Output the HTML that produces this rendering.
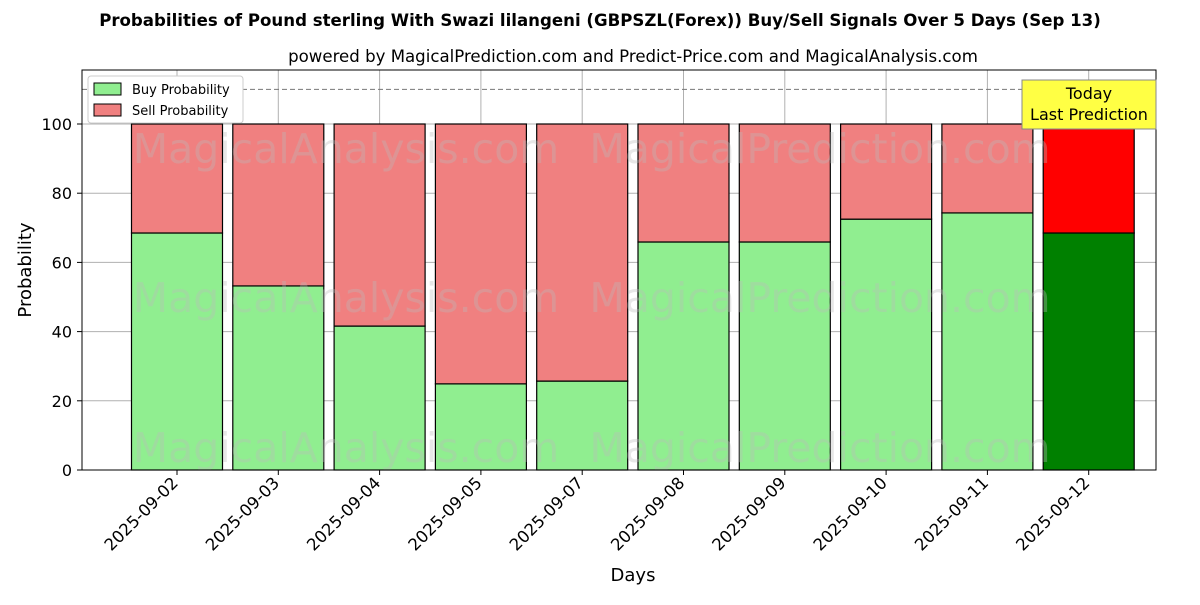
<!DOCTYPE html>
<html><head><meta charset="utf-8"><style>
body{margin:0;background:#fff;font-family:"Liberation Sans","DejaVu Sans",sans-serif}
svg text{font-family:"DejaVu Sans","Liberation Sans",sans-serif}
</style></head><body>
<svg id="chart" width="1200" height="600" xmlns="http://www.w3.org/2000/svg">
<text x="600" y="26" text-anchor="middle" font-size="16.6" font-weight="bold">Probabilities of Pound sterling With Swazi lilangeni (GBPSZL(Forex)) Buy/Sell Signals Over 5 Days (Sep 13)</text>
<text x="633" y="62" text-anchor="middle" font-size="16.6">powered by MagicalPrediction.com and Predict-Price.com and MagicalAnalysis.com</text>
<g id="grid"></g>
<g id="bars"></g>
<g id="wm" fill="#bbb" opacity="0.35" font-size="41">
<text x="346" y="163" text-anchor="middle">MagicalAnalysis.com</text>
<text x="820" y="163" text-anchor="middle">MagicalPrediction.com</text>
<text x="346" y="312" text-anchor="middle">MagicalAnalysis.com</text>
<text x="820" y="312" text-anchor="middle">MagicalPrediction.com</text>
<text x="346" y="462" text-anchor="middle">MagicalAnalysis.com</text>
<text x="820" y="462" text-anchor="middle">MagicalPrediction.com</text>
</g>
<line x1="82" x2="1156" y1="89.4" y2="89.4" stroke="#777" stroke-dasharray="5,3"/>
<rect x="82" y="70" width="1074" height="400" fill="none" stroke="#000"/>
<g id="axes"></g>
<text transform="translate(31,270) rotate(-90)" text-anchor="middle" font-size="18">Probability</text>
<text x="633" y="581" text-anchor="middle" font-size="18">Days</text>
<g>
<rect x="88" y="76" width="155" height="47" fill="#fff" stroke="#ccc" rx="3"/>
<rect x="94" y="83" width="27" height="12" fill="#90ee90" stroke="#000"/>
<text x="132" y="94" font-size="13">Buy Probability</text>
<rect x="94" y="104" width="27" height="12" fill="#f08080" stroke="#000"/>
<text x="132" y="115" font-size="13">Sell Probability</text>
</g>
<g>
<rect x="1022" y="80" width="134" height="49" fill="#ffff44" stroke="#888"/>
<text x="1089" y="99" text-anchor="middle" font-size="16">Today</text>
<text x="1089" y="120" text-anchor="middle" font-size="16">Last Prediction</text>
</g>
</svg>
<script>
const categories=["2025-09-02","2025-09-03","2025-09-04","2025-09-05","2025-09-07","2025-09-08","2025-09-09","2025-09-10","2025-09-11","2025-09-12"];
const buyValues=[68.5,53.2,41.6,24.9,25.7,65.9,65.9,72.5,74.3,68.5];
const sellValues=buyValues.map(v=>100-v);
const yTicks=[0,20,40,60,80,100];
const NS="http://www.w3.org/2000/svg";
const y=v=>470-v*3.46;
const x=i=>177+101.3*i;
const bw=91;
function mk(tag,attrs,parent){const e=document.createElementNS(NS,tag);for(const k in attrs)e.setAttribute(k,attrs[k]);parent.appendChild(e);return e;}
const grid=document.getElementById('grid'),bars=document.getElementById('bars'),axes=document.getElementById('axes');
yTicks.forEach(t=>{
 const l=mk('line',{x1:82,x2:1156,y1:y(t),y2:y(t),stroke:'#b0b0b0'},grid);
 
 
 const tk=mk('line',{x1:77,x2:82,y1:y(t),y2:y(t),stroke:'#000'},axes);
 
 
 const tx=mk('text',{x:72,y:y(t)+6,'text-anchor':'end','font-size':16},axes);
 tx.textContent=t;
 
 
});
categories.forEach((c,i)=>{
 const g=mk('line',{x1:x(i),x2:x(i),y1:70,y2:470,stroke:'#b0b0b0'},grid);
 
 
 const last=i===categories.length-1;
 const b=mk('rect',{x:x(i)-bw/2,y:y(buyValues[i]),width:bw,height:y(0)-y(buyValues[i]),fill:last?'#008000':'#90ee90',stroke:'#000','stroke-width':1.2},bars);
 
 
 const s=mk('rect',{x:x(i)-bw/2,y:y(buyValues[i]+sellValues[i]),width:bw,height:y(buyValues[i])-y(buyValues[i]+sellValues[i]),fill:last?'#ff0000':'#f08080',stroke:'#000','stroke-width':1.2},bars);
 
 
 const tk=mk('line',{x1:x(i),x2:x(i),y1:470,y2:475,stroke:'#000'},axes);
 
 
 const tx=mk('text',{transform:`translate(${x(i)+2},${484}) rotate(-45)`,'text-anchor':'end','font-size':16.5},axes);
 tx.textContent=c;
 
 
});
</script>
</body></html>
